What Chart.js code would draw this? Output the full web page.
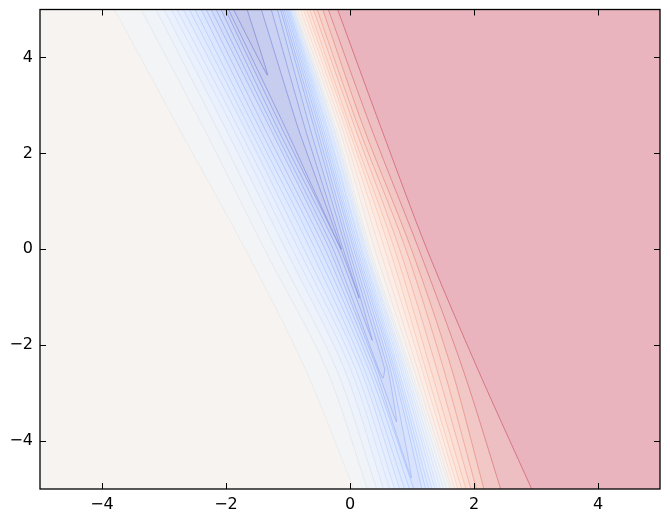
<!DOCTYPE html>
<html>
<head>
<meta charset="utf-8">
<script src="https://cdn.jsdelivr.net/npm/chart.js@4.4.0/dist/chart.umd.min.js"></script>
<style>
  html, body { margin: 0; padding: 0; background: #fff; }
  canvas { display: block; }
</style>
</head>
<body>
<canvas id="myChart" width="670" height="523"></canvas>
<script>
'use strict';

const rowY = [5, 2.5, 0, -2.5, -5];

// levels below the plateau: L1 (plateau edge) down to L17 (deepest)
const leftArmX = [
  [-3.80, -2.75, -1.69, -0.72, 0.06],
  [-3.37, -2.35, -1.38, -0.38, 0.28],
  [-3.13, -2.14, -1.19, -0.22, 0.43],
  [-3.00, -2.00, -1.04, -0.09, 0.54],
  [-2.88, -1.88, -0.93, 0.01, 0.64],
  [-2.79, -1.79, -0.83, 0.09, 0.72],
  [-2.69, -1.69, -0.74, 0.17, 0.80],
  [-2.59, -1.61, -0.64, 0.23, 0.88],
  [-2.50, -1.53, -0.56, 0.30, 0.96],
  [-2.40, -1.45, -0.48, 0.35, 1.03],
  [-2.32, -1.37, -0.40, 0.40, null],
  [-2.24, -1.28, -0.33, 0.44, null],
  [-2.16, -1.22, -0.27, 0.46, null],
  [-2.08, -1.16, -0.20, null, null],
  [-2.01, -1.09, -0.15, null, null],
  [-1.96, -1.03, null, null, null],
  [-1.88, null, null, null, null]
];
const rightArmX = [
  [-0.88, -0.22, 0.33, 0.98, 1.61],
  [-0.90, -0.25, 0.30, 0.95, 1.56],
  [-0.91, -0.27, 0.27, 0.91, 1.51],
  [-0.93, -0.30, 0.25, 0.88, 1.46],
  [-0.95, -0.32, 0.23, 0.85, 1.41],
  [-0.96, -0.35, 0.20, 0.82, 1.37],
  [-0.98, -0.37, 0.18, 0.78, 1.32],
  [-0.99, -0.40, 0.15, 0.75, 1.27],
  [-1.01, -0.43, 0.12, 0.72, 1.22],
  [-1.03, -0.46, 0.09, 0.69, 1.16],
  [-1.06, -0.49, 0.06, 0.65, null],
  [-1.09, -0.53, 0.02, 0.61, null],
  [-1.12, -0.57, -0.02, 0.56, null],
  [-1.17, -0.64, -0.06, null, null],
  [-1.27, -0.72, -0.11, null, null],
  [-1.43, -0.83, null, null, null],
  [-1.66, null, null, null, null]
];
// lower end of the closed tongues (null = reaches the bottom)
const tipXY = [
  null, null, null, null, null, null, null, null, null, null,
  [0.99, -4.77],
  [0.75, -3.60],
  [0.53, -2.69],
  [0.36, -1.90],
  [0.15, -1.02],
  [-0.14, 0.0],
  [-1.33, 3.63]
];

// levels above the plateau: R1 .. R10 (saturated edge)
const redLevelX = [
  [-0.85, -0.17, 0.40, 1.03, 1.64],
  [-0.80, -0.12, 0.48, 1.09, 1.69],
  [-0.75, -0.07, 0.56, 1.16, 1.74],
  [-0.70, -0.02, 0.64, 1.22, 1.80],
  [-0.65, 0.02, 0.72, 1.30, 1.87],
  [-0.59, 0.09, 0.80, 1.40, 1.95],
  [-0.53, 0.15, 0.90, 1.51, 2.04],
  [-0.44, 0.23, 0.99, 1.64, 2.16],
  [-0.35, 0.35, 1.11, 1.82, 2.43],
  [-0.20, 0.51, 1.24, 2.06, 2.93]
];

const xTicks = [-4, -2, 0, 2, 4];
const yTicks = [-4, -2, 0, 2, 4];

// coolwarm, laid over white at alpha 0.3
const cmapStops = [[59,76,192],[98,130,234],[141,176,254],[184,208,249],[221,221,221],
  [245,196,173],[244,154,123],[222,96,77],[180,4,38]];
function coolwarm(v) {
  v = Math.min(1, Math.max(0, v)) * (cmapStops.length - 1);
  const i = Math.min(cmapStops.length - 2, Math.floor(v));
  const t = v - i;
  return cmapStops[i].map((c, k) => c + (cmapStops[i + 1][k] - c) * t);
}
function onWhite(v) {
  return 'rgb(' + coolwarm(v).map(c => Math.round(255 - 0.3 * (255 - c))).join(',') + ')';
}
function lineColor(v) {
  return 'rgba(' + coolwarm(v).map(c => Math.round(c)).join(',') + ',0.4)';
}
function bandValue(i) {
  return i <= 16 ? i * 0.03 : 0.53 + (i - 17) * 0.047;
}

function armPoints(xs) {
  const pts = [];
  xs.forEach((x, i) => { if (x !== null) pts.push({x: x, y: rowY[i]}); });
  return pts;
}
// push an end point past the frame so the polygon edge is clipped away
function extend(a, b) {
  return {x: a.x + (a.x - b.x) * 0.3, y: a.y + (a.y - b.y) * 0.3};
}

const polys = [];
polys.push({pts: [{x: -6, y: -6}, {x: 6, y: -6}, {x: 6, y: 6}, {x: -6, y: 6}], band: 27, edge: false, tension: 0});

for (let j = redLevelX.length - 1; j >= 0; j--) {
  const r = armPoints(redLevelX[j]);
  const n = r.length;
  const pts = [extend(r[0], r[1]), ...r, extend(r[n - 1], r[n - 2]), {x: -6, y: -6}, {x: -6, y: 6}];
  polys.push({pts: pts, band: 17 + j, edge: true, tension: 0.3});
}

for (let k = 0; k < leftArmX.length; k++) {
  const l = armPoints(leftArmX[k]);
  const r = armPoints(rightArmX[k]);
  const tip = tipXY[k] ? {x: tipXY[k][0], y: tipXY[k][1]} : null;
  let pts;
  if (tip) {
    const lTop = extend(l[0], l.length > 1 ? l[1] : tip);
    const rTop = extend(r[0], r.length > 1 ? r[1] : tip);
    pts = [lTop, ...l, tip, ...r.slice().reverse(), rTop];
  } else {
    const n = l.length;
    pts = [extend(l[0], l[1]), ...l, extend(l[n - 1], l[n - 2]),
      extend(r[n - 1], r[n - 2]), ...r.slice().reverse(), extend(r[0], r[1])];
  }
  polys.push({pts: pts, band: 16 - k, edge: true, tension: tip ? 0.15 : 0.3});
}

const datasets = polys.map((p, i) => ({
  data: p.pts,
  showLine: true,
  fill: 'shape',
  backgroundColor: onWhite(bandValue(p.band)),
  borderColor: p.edge ? lineColor((bandValue(p.band) + bandValue(p.band + 1)) / 2) : 'rgba(0,0,0,0)',
  borderWidth: p.edge ? 1 : 0,
  pointRadius: 0,
  tension: p.tension,
  clip: 0,
  order: polys.length - i
}));

const fmt = v => (v < 0 ? '\u2212' + Math.abs(v) : String(v));

const framePlugin = {
  id: 'frame',
  afterDraw(chart) {
    const {ctx, chartArea: a, scales: {x, y}} = chart;
    ctx.save();
    ctx.strokeStyle = '#000';
    ctx.lineWidth = 1;
    ctx.beginPath();
    xTicks.forEach(v => {
      const px = Math.round(x.getPixelForValue(v)) + 0.5;
      ctx.moveTo(px, a.bottom); ctx.lineTo(px, a.bottom - 6);
      ctx.moveTo(px, a.top); ctx.lineTo(px, a.top + 6);
    });
    yTicks.forEach(v => {
      const py = Math.round(y.getPixelForValue(v)) + 0.5;
      ctx.moveTo(a.left, py); ctx.lineTo(a.left + 6, py);
      ctx.moveTo(a.right, py); ctx.lineTo(a.right - 6, py);
    });
    ctx.stroke();
    ctx.lineWidth = 1.3;
    ctx.strokeRect(a.left, a.top, a.right - a.left, a.bottom - a.top);
    ctx.restore();
  }
};

const ctx = document.getElementById('myChart');
new Chart(ctx, {
  type: 'scatter',
  data: { datasets: datasets },
  options: {
    responsive: false,
    animation: false,
    events: [],
    layout: { padding: { top: 9.5, right: 10, left: 0, bottom: 0 } },
    elements: { line: { capBezierPoints: false } },
    plugins: { legend: { display: false }, tooltip: { enabled: false } },
    scales: {
      x: {
        type: 'linear', min: -5, max: 5,
        afterBuildTicks: s => { s.ticks = xTicks.map(v => ({value: v})); },
        afterFit: s => { s.height = 34; s.paddingLeft = 0; s.paddingRight = 0; },
        grid: { display: false, drawTicks: false },
        border: { display: false },
        ticks: { color: '#000', font: { family: 'DejaVu Sans', size: 16 }, padding: 6,
          maxRotation: 0, autoSkip: false, callback: fmt }
      },
      y: {
        type: 'linear', min: -5, max: 5,
        afterBuildTicks: s => { s.ticks = yTicks.map(v => ({value: v})); },
        afterFit: s => { s.width = 40; s.paddingTop = 0; s.paddingBottom = 0; },
        grid: { display: false, drawTicks: false },
        border: { display: false },
        ticks: { color: '#000', font: { family: 'DejaVu Sans', size: 16 }, padding: 7,
          autoSkip: false, callback: fmt }
      }
    }
  },
  plugins: [framePlugin]
});
</script>
</body>
</html>
